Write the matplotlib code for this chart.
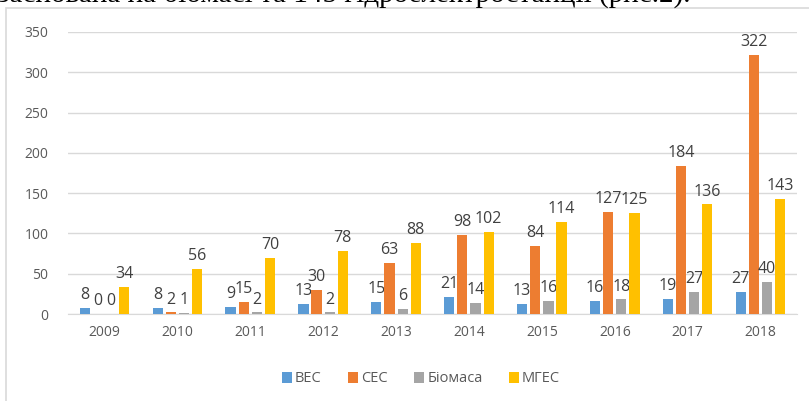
import matplotlib.pyplot as plt
import numpy as np
from matplotlib.patches import Rectangle

years = ["2009", "2010", "2011", "2012", "2013", "2014", "2015", "2016", "2017", "2018"]
ves = [8, 8, 9, 13, 15, 21, 13, 16, 19, 27]
ses = [0, 2, 15, 30, 63, 98, 84, 127, 184, 322]
biomasa = [0, 1, 2, 2, 6, 14, 16, 18, 27, 40]
mges = [34, 56, 70, 78, 88, 102, 114, 125, 136, 143]

series_names = ["ВЕС", "СЕС", "Біомаса", "МГЕС"]
colors = ["#5b9bd5", "#ed7d31", "#a5a5a5", "#ffc000"]

plt.rcParams['font.family'] = ['Open Sans', 'DejaVu Sans']

fig = plt.figure(figsize=(8.09, 4.01), dpi=100)
ax = fig.add_axes([68 / 809, 1 - 314 / 401, (797 - 68) / 809, (314 - 32) / 401])

x = np.arange(len(years))
w = 0.14
step = 0.18
for i, (vals, name) in enumerate(zip([ves, ses, biomasa, mges], series_names)):
    pos = x + (i - 1.5) * step
    ax.bar(pos, vals, w, color=colors[i], label=name, zorder=3)
    for p, v in zip(pos, vals):
        ax.text(p, v + 6, str(v), ha='center', va='bottom', fontsize=11.5, color='#404040')

ax.set_ylim(0, 350)
ax.set_xlim(-0.5, len(years) - 0.5)
ax.set_yticks(range(0, 351, 50))
ax.set_xticks(x)
ax.set_xticklabels(years)
ax.grid(axis='y', color='#d9d9d9', linewidth=1, zorder=0)
for s in ['top', 'right', 'left']:
    ax.spines[s].set_visible(False)
ax.spines['bottom'].set_color('#d9d9d9')
ax.tick_params(length=0, labelsize=10, colors='#595959', pad=8)
ax.tick_params(axis='y', pad=14)

leg = fig.legend(loc='center', bbox_to_anchor=(421 / 809, 1 - 379 / 401), ncol=4, frameon=False,
                 fontsize=10.5, handlelength=0.7, handleheight=0.7, handletextpad=0.2, columnspacing=1.8)
for t in leg.get_texts():
    t.set_color('#595959')

# chart area border
fig.patches.append(Rectangle((6 / 809, -0.1), 1.2, 1 - 8 / 401 + 0.1, transform=fig.transFigure,
                             fill=False, edgecolor='#d9d9d9', linewidth=1.2))

# cut off line of document text above the chart
fig.text(-0.002, 1 - 2 / 401, "заснована на біомасі та 145 гідроелектростанції (рис.2).",
         fontsize=21, family='Liberation Serif', va='baseline', ha='left', color='black')

fig.savefig("out.png", dpi=100)
